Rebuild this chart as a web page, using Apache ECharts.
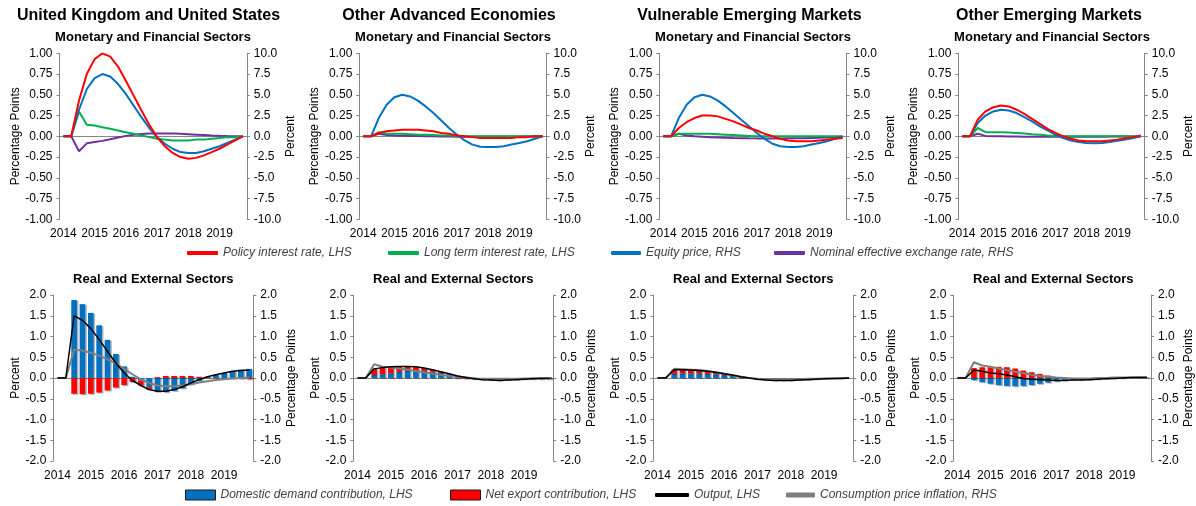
<!DOCTYPE html>
<html>
<head>
<meta charset="utf-8">
<script src="https://cdn.jsdelivr.net/npm/echarts@6/dist/echarts.min.js"></script>
<style>
  html, body { margin: 0; padding: 0; background: #fff; }
  #chart { width: 1196px; height: 506px; }
</style>
</head>
<body>
<div id="chart"></div>
<script>
// quarterly categories, 2014Q1 .. 2019Q4
const quarters = []
for (let y = 2014; y <= 2019; y++) {
  for (let q = 1; q <= 4; q++) quarters.push(y + 'Q' + q)
}

const regionNames = ['United Kingdom and United States', 'Other Advanced Economies', 'Vulnerable Emerging Markets', 'Other Emerging Markets']

// Monetary and financial sectors (policy/long rate: LHS pp, equity/NEER: RHS %)
const ukPolicy = [0, 0, 0.43, 0.75, 0.93, 1.00, 0.96, 0.84, 0.67, 0.49, 0.31, 0.14, -0.01, -0.12, -0.20, -0.25, -0.27, -0.26, -0.23, -0.19, -0.15, -0.10, -0.05, 0]
const ukLong = [0, 0, 0.30, 0.14, 0.13, 0.11, 0.09, 0.07, 0.05, 0.03, 0.01, -0.01, -0.03, -0.04, -0.05, -0.05, -0.05, -0.04, -0.04, -0.03, -0.02, -0.01, -0.01, 0]
const ukEquity = [0, 0, 3.2, 5.7, 7.0, 7.5, 7.2, 6.3, 5.1, 3.7, 2.3, 1.0, -0.1, -0.9, -1.5, -1.9, -2.0, -2.0, -1.8, -1.5, -1.2, -0.8, -0.4, 0]
const ukNeer = [0, 0, -1.8, -0.85, -0.7, -0.55, -0.35, -0.15, 0.05, 0.2, 0.28, 0.33, 0.35, 0.35, 0.33, 0.3, 0.25, 0.2, 0.15, 0.1, 0.06, 0.03, 0.01, 0]

const oaePolicy = [0, 0, 0.04, 0.06, 0.07, 0.08, 0.08, 0.08, 0.07, 0.06, 0.04, 0.03, 0.01, 0, -0.01, -0.02, -0.02, -0.02, -0.02, -0.02, -0.01, -0.01, 0, 0]
const oaeLong = [0, 0, 0.05, 0.03, 0.03, 0.03, 0.025, 0.02, 0.02, 0.015, 0.01, 0.01, 0.005, 0, 0, 0, 0, 0, 0, 0, 0, 0, 0, 0]
const oaeEquity = [0, 0, 2.2, 3.8, 4.7, 5.0, 4.8, 4.3, 3.6, 2.8, 1.9, 1.0, 0.2, -0.5, -1.0, -1.25, -1.3, -1.3, -1.2, -1.0, -0.8, -0.6, -0.3, 0]
const oaeNeer = [0, 0, 0.3, 0.15, 0.1, 0.08, 0.05, 0.03, 0.01, 0, -0.02, -0.03, -0.04, -0.05, -0.05, -0.05, -0.05, -0.05, -0.04, -0.04, -0.03, -0.02, -0.01, 0]

const vemPolicy = [0, 0, 0.1, 0.17, 0.22, 0.25, 0.25, 0.24, 0.21, 0.18, 0.14, 0.1, 0.07, 0.03, 0, -0.03, -0.05, -0.06, -0.06, -0.06, -0.05, -0.04, -0.03, -0.02]
const vemLong = [0, 0, 0.03, 0.03, 0.03, 0.03, 0.03, 0.025, 0.02, 0.015, 0.01, 0.005, 0, 0, 0, 0, 0, 0, 0, 0, 0, 0, 0, 0]
const vemEquity = [0, 0, 2.2, 3.8, 4.7, 5.0, 4.8, 4.3, 3.6, 2.8, 2.0, 1.2, 0.4, -0.3, -0.9, -1.2, -1.3, -1.3, -1.2, -1.0, -0.8, -0.6, -0.3, 0]
const vemNeer = [0, 0, 0.3, 0.1, 0, -0.05, -0.1, -0.13, -0.17, -0.2, -0.22, -0.24, -0.25, -0.25, -0.25, -0.25, -0.24, -0.23, -0.22, -0.2, -0.18, -0.15, -0.12, -0.1]

const oemPolicy = [0, 0, 0.2, 0.3, 0.35, 0.37, 0.36, 0.32, 0.27, 0.21, 0.15, 0.09, 0.04, 0, -0.03, -0.05, -0.06, -0.06, -0.06, -0.05, -0.04, -0.02, -0.01, 0.01]
const oemLong = [0, 0, 0.1, 0.05, 0.05, 0.05, 0.045, 0.04, 0.035, 0.025, 0.02, 0.01, 0.005, 0, 0, 0, 0, 0, 0, 0, 0, 0, 0, 0]
const oemEquity = [0, 0, 1.6, 2.5, 3.0, 3.2, 3.1, 2.8, 2.3, 1.8, 1.2, 0.7, 0.2, -0.2, -0.5, -0.7, -0.8, -0.85, -0.8, -0.7, -0.55, -0.4, -0.2, 0]
const oemNeer = [0, 0, 0.3, 0.05, 0.02, 0, -0.02, -0.03, -0.04, -0.05, -0.05, -0.06, -0.06, -0.06, -0.06, -0.05, -0.05, -0.05, -0.04, -0.03, -0.02, -0.02, -0.01, 0]

// Real and external sectors (contributions/output: LHS %, CPI: RHS pp)
const ukDomestic = [0, 0, 1.88, 1.78, 1.57, 1.27, 0.92, 0.58, 0.28, 0.03, -0.06, -0.22, -0.33, -0.34, -0.31, -0.25, -0.15, -0.07, 0.02, 0.08, 0.12, 0.17, 0.2, 0.22]
const ukNetExport = [0, 0, -0.38, -0.39, -0.38, -0.35, -0.3, -0.23, -0.17, -0.1, -0.12, -0.06, 0.02, 0.05, 0.05, 0.05, 0.05, 0.03, 0.01, 0, -0.01, -0.01, -0.02, -0.03]
const ukOutput = [0, 0, 1.5, 1.39, 1.19, 0.93, 0.64, 0.36, 0.12, -0.06, -0.18, -0.28, -0.32, -0.32, -0.28, -0.21, -0.12, -0.04, 0.03, 0.08, 0.12, 0.16, 0.18, 0.19]
const ukCpi = [0, 0, 0.68, 0.66, 0.61, 0.54, 0.45, 0.35, 0.22, 0.09, -0.03, -0.12, -0.18, -0.2, -0.2, -0.18, -0.15, -0.11, -0.08, -0.05, -0.03, -0.01, 0, 0.01]

const oaeDomestic = [0, 0, 0.07, 0.09, 0.11, 0.15, 0.17, 0.18, 0.17, 0.15, 0.12, 0.09, 0.06, 0.03, 0.01, -0.01, -0.02, -0.03, -0.03, -0.03, -0.03, -0.03, -0.03, -0.03]
const oaeNetExport = [0, 0, 0.16, 0.17, 0.16, 0.12, 0.1, 0.08, 0.07, 0.05, 0.03, 0.01, -0.01, -0.02, -0.03, -0.03, -0.03, -0.03, -0.02, -0.01, 0, 0.01, 0.02, 0.02]
const oaeOutput = [0, 0, 0.22, 0.25, 0.27, 0.28, 0.28, 0.27, 0.24, 0.2, 0.15, 0.1, 0.05, 0.01, -0.02, -0.04, -0.05, -0.06, -0.05, -0.04, -0.03, -0.02, -0.01, -0.01]
const oaeCpi = [0, 0, 0.33, 0.27, 0.25, 0.23, 0.2, 0.17, 0.14, 0.11, 0.08, 0.05, 0.03, 0.01, -0.01, -0.02, -0.02, -0.02, -0.02, -0.02, -0.01, -0.01, 0, 0]

const vemDomestic = [0, 0, 0.1, 0.11, 0.11, 0.11, 0.1, 0.09, 0.07, 0.05, 0.02, 0, -0.02, -0.04, -0.05, -0.05, -0.05, -0.04, -0.03, -0.02, -0.02, -0.01, -0.01, 0]
const vemNetExport = [0, 0, 0.1, 0.09, 0.08, 0.07, 0.06, 0.05, 0.03, 0.02, 0.01, 0, -0.01, -0.01, -0.01, -0.01, -0.01, -0.01, -0.01, -0.01, 0, 0, 0, 0]
const vemOutput = [0, 0, 0.2, 0.2, 0.19, 0.18, 0.16, 0.14, 0.1, 0.07, 0.03, 0, -0.03, -0.05, -0.06, -0.06, -0.06, -0.05, -0.04, -0.03, -0.02, -0.01, -0.01, 0]
const vemCpi = [0, 0, 0.22, 0.21, 0.2, 0.19, 0.17, 0.14, 0.1, 0.06, 0.03, 0, -0.02, -0.03, -0.03, -0.03, -0.03, -0.03, -0.02, -0.02, -0.01, -0.01, 0, 0]

const oemDomestic = [0, 0, -0.05, -0.1, -0.14, -0.17, -0.19, -0.2, -0.19, -0.17, -0.14, -0.11, -0.08, -0.06, -0.04, -0.03, -0.02, -0.01, 0, 0, 0.01, 0.01, 0.01, 0.01]
const oemNetExport = [0, 0, 0.24, 0.26, 0.26, 0.27, 0.26, 0.23, 0.18, 0.14, 0.1, 0.06, 0.02, 0, -0.01, -0.02, -0.02, -0.02, -0.02, -0.01, -0.01, 0, 0, 0]
const oemOutput = [0, 0, 0.19, 0.16, 0.12, 0.1, 0.07, 0.03, -0.01, -0.03, -0.04, -0.05, -0.06, -0.06, -0.05, -0.05, -0.04, -0.03, -0.02, -0.01, 0, 0.01, 0.01, 0.01]
const oemCpi = [0, 0, 0.38, 0.3, 0.27, 0.23, 0.19, 0.15, 0.12, 0.08, 0.05, 0.03, 0.01, 0, -0.01, -0.01, -0.01, 0, 0, 0.01, 0.01, 0.01, 0.02, 0.02]

const policyByRegion = [ukPolicy, oaePolicy, vemPolicy, oemPolicy]
const longByRegion = [ukLong, oaeLong, vemLong, oemLong]
const equityByRegion = [ukEquity, oaeEquity, vemEquity, oemEquity]
const neerByRegion = [ukNeer, oaeNeer, vemNeer, oemNeer]
const domesticByRegion = [ukDomestic, oaeDomestic, vemDomestic, oemDomestic]
const netExportByRegion = [ukNetExport, oaeNetExport, vemNetExport, oemNetExport]
const outputByRegion = [ukOutput, oaeOutput, vemOutput, oemOutput]
const cpiByRegion = [ukCpi, oaeCpi, vemCpi, oemCpi]

const FONT = '"Liberation Sans", Arial, sans-serif'
const axisGray = '#868686'
const colors = {
  policy: '#FF0000', long: '#00B050', equity: '#0070C0', neer: '#7030A0',
  domestic: '#0070C0', netExport: '#FF0000', output: '#000000', cpi: '#7F7F7F'
}
const names = {
  policy: 'Policy interest rate, LHS',
  long: 'Long term interest rate, LHS',
  equity: 'Equity price, RHS',
  neer: 'Nominal effective exchange rate, RHS',
  domestic: 'Domestic demand contribution, LHS',
  netExport: 'Net export contribution, LHS',
  output: 'Output, LHS',
  cpi: 'Consumption price inflation, RHS'
}

const grids = []
const xAxes = []
const yAxes = []
const series = []

function valueAxis (g, side, min, max, interval, digits, name, nameGap) {
  return {
    type: 'value', gridIndex: g, position: side,
    min: min, max: max, interval: interval,
    axisLine: { show: true, lineStyle: { color: axisGray, width: 1 } },
    axisTick: { show: true, length: 3, lineStyle: { color: axisGray } },
    splitLine: { show: false },
    axisLabel: { margin: 7, fontFamily: FONT, fontSize: 12, color: '#000', formatter: v => v.toFixed(digits) },
    name: name, nameLocation: 'middle', nameRotate: 90, nameGap: nameGap,
    nameTextStyle: { fontFamily: FONT, fontSize: 12, color: '#000' }
  }
}

function addGrid (left, top, width, labelMargin) {
  const g = grids.length
  grids.push({ left: left, top: top, width: width, height: 166 })
  // zero line with year ticks
  xAxes.push({
    type: 'category', gridIndex: g, data: quarters, position: 'top',
    axisLine: { onZero: true, lineStyle: { color: axisGray } },
    axisTick: { interval: 3, inside: true, length: 4, lineStyle: { color: axisGray } },
    axisLabel: { show: false }, splitLine: { show: false }
  })
  // year labels at the bottom
  xAxes.push({
    type: 'category', gridIndex: g, data: quarters, position: 'bottom',
    axisLine: { show: false, onZero: false }, axisTick: { show: false },
    axisLabel: { interval: 3, margin: labelMargin, fontFamily: FONT, fontSize: 12, color: '#000', formatter: v => v.slice(0, 4) }
  })
  return g
}

function lineSeries (g, key, yIdx, data, width) {
  return {
    type: 'line', name: names[key], xAxisIndex: 2 * g + 1, yAxisIndex: yIdx, data: data,
    symbol: 'none', z: 4,
    lineStyle: { color: colors[key], width: width },
    itemStyle: { color: colors[key] }
  }
}

function barSeries (g, key, yIdx, data) {
  return {
    type: 'bar', name: names[key], xAxisIndex: 2 * g + 1, yAxisIndex: yIdx, data: data,
    stack: 'contrib' + g, barWidth: '68%', z: 2,
    itemStyle: { color: colors[key], shadowColor: 'rgba(0,0,0,0.3)', shadowOffsetX: 1.5, shadowOffsetY: 1, shadowBlur: 0 }
  }
}

const topLefts = [59.5, 359.3, 659.3, 958.3]
const bottomLefts = [53.3, 353.3, 653.3, 953.3]

for (let r = 0; r < 4; r++) {
  // monetary & financial
  let g = addGrid(topLefts[r], 53.3, 187.3, 8)
  yAxes.push(valueAxis(g, 'left', -1, 1, 0.25, 2, 'Percentage Points', 36))
  yAxes.push(valueAxis(g, 'right', -10, 10, 2.5, 1, 'Percent', 38))
  let yl = yAxes.length - 2
  series.push(lineSeries(g, 'neer', yl + 1, neerByRegion[r], 2))
  series.push(lineSeries(g, 'long', yl, longByRegion[r], 2))
  series.push(lineSeries(g, 'equity', yl + 1, equityByRegion[r], 2))
  series.push(lineSeries(g, 'policy', yl, policyByRegion[r], 2))

  // real & external
  g = addGrid(bottomLefts[r], 295, 200, 9)
  yAxes.push(valueAxis(g, 'left', -2, 2, 0.5, 1, 'Percent', 30))
  yAxes.push(valueAxis(g, 'right', -2, 2, 0.5, 1, 'Percentage Points', 32))
  yl = yAxes.length - 2
  series.push(barSeries(g, 'domestic', yl, domesticByRegion[r]))
  series.push(barSeries(g, 'netExport', yl, netExportByRegion[r]))
  series.push(lineSeries(g, 'cpi', yl + 1, cpiByRegion[r], 2))
  series.push(lineSeries(g, 'output', yl, outputByRegion[r], 1.5))
}

// legends, one component per entry so each sits where it does in the figure
const legendText = { fontFamily: FONT, fontSize: 12, fontStyle: 'italic', color: '#404040' }
const legendSpec = [
  ['policy', 187, 247, 'roundRect', 31, 4],
  ['long', 388, 247, 'roundRect', 31, 4],
  ['equity', 611, 247, 'roundRect', 30, 4],
  ['neer', 774, 247, 'roundRect', 31, 4],
  ['domestic', 185, 489, 'rect', 30, 10],
  ['netExport', 450, 489, 'rect', 30, 10],
  ['output', 655, 489, 'roundRect', 34, 4],
  ['cpi', 786, 489, 'roundRect', 29, 5]
]
const legends = legendSpec.map(s => ({
  data: [names[s[0]]], left: s[1], top: s[2], icon: s[3], itemWidth: s[4], itemHeight: s[5],
  padding: 0, textStyle: legendText,
  itemStyle: s[3] === 'rect' ? { borderColor: '#1a1a1a', borderWidth: 1 } : {}
}))

// panel titles
const titleCenters = [148.5, 449, 749.5, 1049]
const topCenters = [153, 453, 753, 1052]
const bottomCenters = [153.3, 453.3, 753.3, 1053.3]
const graphics = []
for (let r = 0; r < 4; r++) {
  graphics.push({ type: 'text', x: titleCenters[r], y: 16, style: { text: regionNames[r], align: 'center', verticalAlign: 'middle', font: 'bold 16px ' + FONT, fill: '#000' } })
  graphics.push({ type: 'text', x: topCenters[r], y: 37.3, style: { text: 'Monetary and Financial Sectors', align: 'center', verticalAlign: 'middle', font: 'bold 13px ' + FONT, fill: '#000' } })
  graphics.push({ type: 'text', x: bottomCenters[r], y: 279.3, style: { text: 'Real and External Sectors', align: 'center', verticalAlign: 'middle', font: 'bold 13px ' + FONT, fill: '#000' } })
}

const chart = echarts.init(document.getElementById('chart'))
chart.setOption({
  animation: false,
  backgroundColor: '#fff',
  textStyle: { fontFamily: FONT },
  grid: grids,
  xAxis: xAxes,
  yAxis: yAxes,
  legend: legends,
  graphic: graphics,
  series: series
})
</script>
</body>
</html>
